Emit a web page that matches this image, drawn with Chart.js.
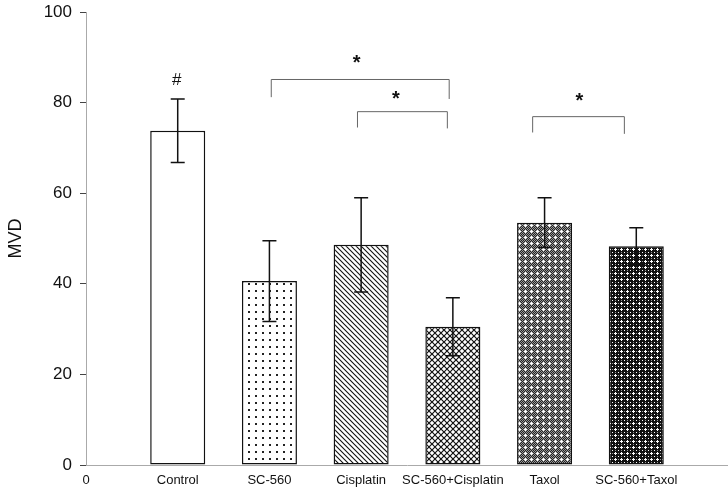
<!DOCTYPE html>
<html lang="en">
<head>
<meta charset="UTF-8">
<title>MVD</title>
<script src="https://cdn.jsdelivr.net/npm/chart.js"></script>
<style>
    body { margin: 0; background: #fff; }
    #wrap { width: 728px; height: 492px; position: relative; }
</style>
</head>
<body>
<div id="wrap"><canvas id="mvdChart"></canvas></div>
<script>
// data
const groups = ['Control', 'SC-560', 'Cisplatin', 'SC-560+Cisplatin', 'Taxol', 'SC-560+Taxol'];
const positions = [1, 2, 3, 4, 5, 6];
const mvd = [73.8, 40.6, 48.6, 30.5, 53.5, 48.3];
const mvdErr = [7.0, 8.9, 10.4, 6.4, 5.5, 4.1];
const yTicks = [0, 20, 40, 60, 80, 100];

// significance brackets: [from, to, top, left leg end, right leg end]
const brackets = [
    [2.02, 3.96, 85.1, 81.2, 80.8],
    [2.96, 3.94, 78.0, 74.5, 74.3],
    [4.87, 5.87, 76.9, 73.4, 73.1]
];
// marks: [x, y, text]
const marks = [
    [0.99, 85.0, '#'],
    [2.95, 88.6, '*'],
    [3.38, 80.6, '*'],
    [5.38, 80.2, '*']
];

function makePattern(size, draw) {
    const c = document.createElement('canvas');
    c.width = size; c.height = size;
    const g = c.getContext('2d');
    draw(g, size);
    return g.createPattern(c, 'repeat');
}

const dots = makePattern(7, (g, s) => {
    g.fillStyle = '#fff'; g.fillRect(0, 0, s, s);
    g.fillStyle = '#222'; g.fillRect(3, 3, 2, 2);
});
const diag = makePattern(5, (g, s) => {
    g.fillStyle = '#fff'; g.fillRect(0, 0, s, s);
    g.strokeStyle = '#111'; g.lineWidth = 1.1;
    g.beginPath();
    g.moveTo(-1, -1); g.lineTo(s + 1, s + 1);
    g.moveTo(-2, s - 2); g.lineTo(2, s + 2);
    g.moveTo(s - 2, -2); g.lineTo(s + 2, 2);
    g.stroke();
});
const cross = makePattern(6, (g, s) => {
    g.fillStyle = '#fff'; g.fillRect(0, 0, s, s);
    g.strokeStyle = '#111'; g.lineWidth = 1.2;
    g.beginPath();
    g.moveTo(-1, -1); g.lineTo(s + 1, s + 1);
    g.moveTo(-1, s + 1); g.lineTo(s + 1, -1);
    g.stroke();
});
const greyDots = makePattern(6, (g, s) => {
    for (let x = 0; x < s; x++) {
        for (let y = 0; y < s; y++) {
            g.fillStyle = (x + y) % 2 ? '#222' : '#999';
            g.fillRect(x, y, 1, 1);
        }
    }
    g.fillStyle = '#fff';
    g.fillRect(3, 2, 1, 3); g.fillRect(2, 3, 3, 1);
});
const darkDots = makePattern(6, (g, s) => {
    g.fillStyle = '#111'; g.fillRect(0, 0, s, s);
    g.fillStyle = '#999';
    g.fillRect(0, 3, 1, 1); g.fillRect(3, 0, 1, 1);
    g.fillStyle = '#fff';
    g.fillRect(3, 2, 1, 3); g.fillRect(2, 3, 3, 1);
    g.fillRect(0, 0, 1, 1);
});
const fills = ['#ffffff', dots, diag, cross, greyDots, darkDots];

const extras = {
    id: 'extras',
    afterDatasetsDraw(chart) {
        const {ctx, scales: {x, y}} = chart;
        ctx.save();
        // error bars
        ctx.strokeStyle = '#111';
        ctx.lineWidth = 1.5;
        positions.forEach((p, i) => {
            const px = x.getPixelForValue(p);
            const top = y.getPixelForValue(mvd[i] + mvdErr[i]);
            const bot = y.getPixelForValue(mvd[i] - mvdErr[i]);
            ctx.beginPath();
            ctx.moveTo(px, top); ctx.lineTo(px, bot);
            ctx.moveTo(px - 7, top); ctx.lineTo(px + 7, top);
            ctx.moveTo(px - 7, bot); ctx.lineTo(px + 7, bot);
            ctx.stroke();
        });
        // brackets
        ctx.strokeStyle = '#666';
        ctx.lineWidth = 1;
        brackets.forEach(b => {
            const x1 = x.getPixelForValue(b[0]);
            const x2 = x.getPixelForValue(b[1]);
            ctx.beginPath();
            ctx.moveTo(x1, y.getPixelForValue(b[3]));
            ctx.lineTo(x1, y.getPixelForValue(b[2]));
            ctx.lineTo(x2, y.getPixelForValue(b[2]));
            ctx.lineTo(x2, y.getPixelForValue(b[4]));
            ctx.stroke();
        });
        // star / hash marks
        ctx.fillStyle = '#111';
        ctx.textAlign = 'center';
        ctx.textBaseline = 'middle';
        marks.forEach(m => {
            ctx.font = m[2] === '*' ? 'bold 20px "Liberation Sans", Arial, sans-serif' : '17px "Liberation Sans", Arial, sans-serif';
            ctx.fillText(m[2], x.getPixelForValue(m[0]), y.getPixelForValue(m[1]));
        });
        ctx.restore();
    }
};

Chart.defaults.font.family = '"Liberation Sans", Arial, sans-serif';
Chart.defaults.color = '#111';

new Chart(document.getElementById('mvdChart'), {
    type: 'bar',
    data: {
        datasets: [{
            data: positions.map((p, i) => ({x: p, y: mvd[i]})),
            backgroundColor: fills,
            borderColor: '#111',
            borderWidth: 1.5,
            borderSkipped: false,
            barPercentage: 0.6,
            categoryPercentage: 1
        }]
    },
    options: {
        responsive: true,
        maintainAspectRatio: false,
        animation: false,
        layout: { padding: { top: 12, right: 0, left: 0, bottom: 0 } },
        plugins: { legend: { display: false }, tooltip: { enabled: false } },
        scales: {
            x: {
                type: 'linear',
                min: 0,
                max: 7,
                offset: false,
                grid: { display: true, drawOnChartArea: false, drawTicks: false, offset: false },
                border: { display: true, color: '#aaa', width: 1 },
                ticks: {
                    stepSize: 1,
                    autoSkip: false,
                    maxRotation: 0,
                    padding: 8,
                    font: { size: 13 },
                    callback: v => v === 0 ? '0' : (groups[v - 1] || '')
                },
                afterFit: s => { s.height = 27; s.paddingLeft = 0; s.paddingRight = 0; }
            },
            y: {
                min: 0,
                max: 100,
                grid: { display: true, drawOnChartArea: false, drawTicks: true, tickLength: 6, tickColor: '#444' },
                border: { display: true, color: '#aaa', width: 1 },
                afterBuildTicks: s => { s.ticks = yTicks.map(v => ({value: v})); },
                ticks: { padding: 8, font: { size: 17 } },
                title: { display: true, text: 'MVD', font: { size: 18 }, padding: { top: 5, bottom: 0 } },
                afterFit: s => { s.width = 86; s.paddingTop = 0; s.paddingBottom = 0; }
            }
        }
    },
    plugins: [extras]
});
</script>
</body>
</html>
